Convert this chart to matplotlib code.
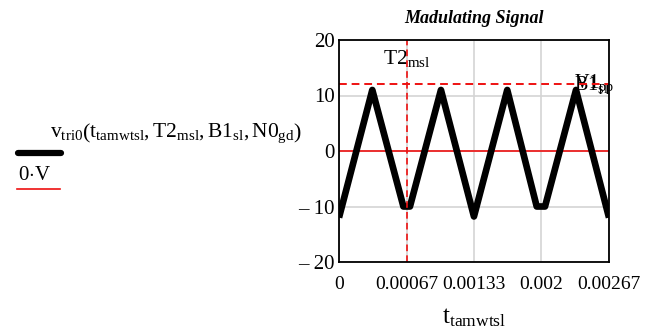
import matplotlib
matplotlib.use('Agg')
import matplotlib.pyplot as plt

plt.rcParams['font.family'] = ['Liberation Serif', 'DejaVu Serif']
plt.rcParams['mathtext.fontset'] = 'custom'
plt.rcParams['mathtext.rm'] = 'Liberation Serif'
plt.rcParams['mathtext.it'] = 'Liberation Serif:italic'

t_vals = [0.0, 0.000329, 0.000636, 0.000701, 0.001007, 0.001333, 0.001662,
          0.001953, 0.002035, 0.002341, 0.002667]
v_vals = [-12.0, 11.0, -10.0, -10.0, 11.0, -11.8, 11.0, -10.0, -10.0, 11.0, -12.0]

x_ticks = [0, 0.000667, 0.001333, 0.002, 0.002667]
x_tick_labels = ['0', '0.00067', '0.00133', '0.002', '0.00267']
y_ticks = [-20, -10, 0, 10, 20]
y_tick_labels = ['\u2013 20', '\u2013 10', '0', '10', '20']

T2_msl = 0.000667
B1_sl = 12.0

fig = plt.figure(figsize=(6.49, 3.33), dpi=100)
ax = fig.add_axes([339 / 649, 71 / 333, 270 / 649, 222 / 333])

ax.set_xlim(0, 0.002667)
ax.set_ylim(-20, 20)
ax.set_xticks(x_ticks)
ax.set_xticklabels(x_tick_labels)
ax.set_yticks(y_ticks)
ax.set_yticklabels(y_tick_labels)
ax.tick_params(axis='x', length=0, labelsize=14, pad=10)
ax.tick_params(axis='y', length=0, labelsize=15, pad=3)
ax.grid(True, color='#d4d4d4', linewidth=1.2)
ax.set_axisbelow(True)
for s in ax.spines.values():
    s.set_linewidth(1.3)
    s.set_color('black')
    s.set_zorder(5)

ax.axhline(0, color='#ee1111', linewidth=1.2, zorder=2)
ax.plot(t_vals, v_vals, color='black', linewidth=4.8, solid_joinstyle='round',
        solid_capstyle='butt', zorder=3)
ax.axhline(B1_sl, color='#ee1111', linewidth=1.4, linestyle=(0, (4, 2.5)), zorder=4)
ax.axvline(T2_msl, color='#ee1111', linewidth=1.2, linestyle=(0, (4, 2.5)), zorder=4)

ax.text(T2_msl, 16.6, r'$\mathrm{T2_{msl}}$', fontsize=15.5, ha='center', va='center')
ax.text(0.002320, 12.0, r'$\mathrm{B1_{sl}}$', fontsize=14.5, ha='left', va='center')
ax.text(0.002320, 12.0, r'$\mathrm{V1_{pp}}$', fontsize=14.5, ha='left', va='center')

ax.set_title('Madulating Signal', fontsize=13, fontweight='bold', style='italic', pad=12)
ax.set_xlabel(r'$\mathrm{t_{tamwtsl}}$', fontsize=18, labelpad=10)

# legend on the left
fig.text(50 / 649, 1 - 133 / 333,
         r'$\mathrm{v_{tri0}\left(t_{tamwtsl}, T2_{msl}, B1_{sl}, N0_{gd}\right)}$',
         fontsize=15.5, ha='left', va='center')
fig.add_artist(plt.Line2D([18 / 649, 61 / 649], [1 - 153 / 333, 1 - 153 / 333],
                          color='black', linewidth=4.5, solid_capstyle='round'))
fig.text(18 / 649, 1 - 175 / 333, r'0$\cdot$V', fontsize=15, ha='left', va='center')
fig.add_artist(plt.Line2D([17 / 649, 60 / 649], [1 - 189 / 333, 1 - 189 / 333],
                          color='#ee1111', linewidth=1.2))

fig.savefig('out.png', dpi=100)
